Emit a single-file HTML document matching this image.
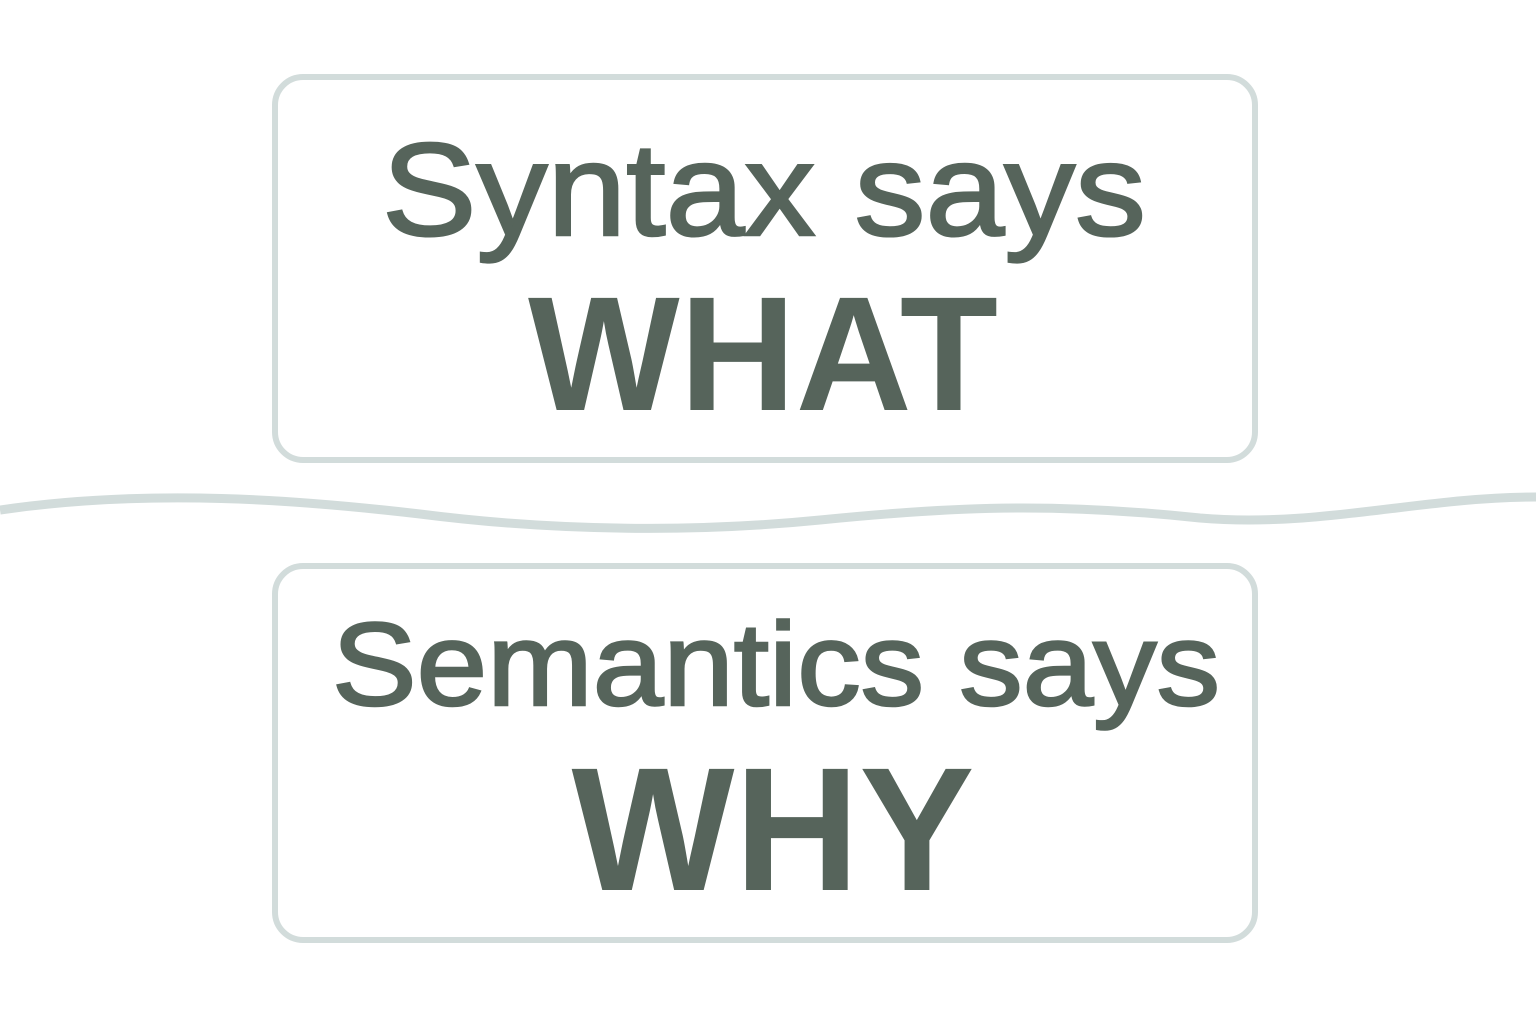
<!DOCTYPE html>
<html><head><style>html,body{margin:0;padding:0;background:#fff;}svg{display:block}</style></head>
<body>
<svg width="1536" height="1024" viewBox="0 0 1536 1024" xmlns="http://www.w3.org/2000/svg">
<rect width="1536" height="1024" fill="#ffffff"/>
<rect x="275" y="77" width="980" height="383" rx="28" fill="#fff" stroke="#d2dcdb" stroke-width="6"/>
<rect x="275" y="566" width="980" height="374" rx="28" fill="#fff" stroke="#d2dcdb" stroke-width="6"/>
<path d="M0 510 C150 488 300 500 420 514 C560 532 700 532 820 520 C950 507 1050 502 1200 518 C1320 528 1420 497 1536 497" fill="none" stroke="#d2dcdb" stroke-width="9"/>
<g fill="#56645b" font-family="Liberation Sans, sans-serif" text-anchor="middle">
<text x="764" y="235" font-size="132" stroke="#56645b" stroke-width="2.5" textLength="764" lengthAdjust="spacingAndGlyphs">Syntax says</text>
<text x="763" y="410" font-size="163" font-weight="bold" textLength="470" lengthAdjust="spacingAndGlyphs">WHAT</text>
<text x="776" y="705" font-size="118" stroke="#56645b" stroke-width="2.5" textLength="888" lengthAdjust="spacingAndGlyphs">Semantics says</text>
<text x="773" y="890" font-size="176" font-weight="bold" textLength="403" lengthAdjust="spacingAndGlyphs">WHY</text>
</g>
</svg>
</body></html>
